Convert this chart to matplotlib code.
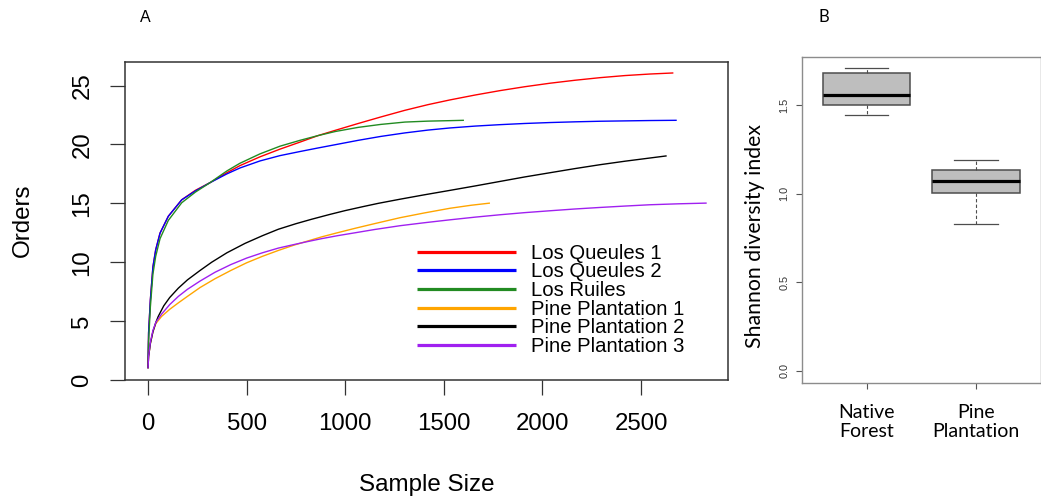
import matplotlib
matplotlib.use("Agg")
import matplotlib.pyplot as plt
from matplotlib.lines import Line2D

# ---------------- data: rarefaction curves (panel A) ----------------
series_names = ["Los Queules 1", "Los Queules 2", "Los Ruiles",
                "Pine Plantation 1", "Pine Plantation 2", "Pine Plantation 3"]
series_colors = ["#FF0000", "#0000FF", "#228B22", "#FFA500", "#000000", "#A020F0"]

lq1_x = [0, 3, 12, 25, 39, 61, 103, 171, 240, 314, 400, 466, 568, 669, 771, 862, 950, 1066, 1180, 1303,
         1420, 1531, 1660, 1785, 1910, 2039, 2165, 2292, 2420, 2546, 2664]
lq1_y = [1, 4.0, 6.8, 9.6, 11.05, 12.47, 13.9, 15.3, 16.1, 16.75, 17.6, 18.2, 18.95, 19.6, 20.2, 20.75, 21.2,
         21.78, 22.33, 22.9, 23.38, 23.78, 24.2, 24.57, 24.9, 25.2, 25.45, 25.67, 25.85, 25.98, 26.07]

lq2_x = [0, 3, 12, 25, 39, 61, 103, 171, 240, 314, 400, 466, 568, 669, 771, 862, 950, 1066, 1180, 1303,
         1420, 1531, 1660, 1785, 1910, 2039, 2165, 2292, 2420, 2546, 2681]
lq2_y = [1, 4.0, 6.8, 9.6, 11.05, 12.47, 13.9, 15.3, 16.05, 16.75, 17.5, 18.0, 18.6, 19.05, 19.4, 19.7, 19.98,
         20.35, 20.68, 20.98, 21.22, 21.4, 21.56, 21.68, 21.78, 21.86, 21.92, 21.97, 22.0, 22.03, 22.05]

lr_x = [0, 3, 12, 25, 39, 61, 103, 171, 240, 314, 400, 466, 568, 669, 771, 862, 950, 1066, 1180, 1303,
        1420, 1530, 1602]
lr_y = [1, 3.3, 6.2, 9.0, 10.5, 12.0, 13.55, 15.05, 15.95, 16.75, 17.75, 18.4, 19.2, 19.85, 20.35, 20.75,
        21.1, 21.45, 21.7, 21.9, 21.98, 22.02, 22.05]

pp1_x = [0, 3, 12, 25, 40, 69, 110, 154, 200, 264, 340, 420, 500, 580, 661, 740, 800, 880, 960, 1050, 1150,
         1278, 1400, 1531, 1640, 1734]
pp1_y = [1, 2.0, 3.1, 4.1, 4.8, 5.4, 6.0, 6.55, 7.1, 7.85, 8.6, 9.3, 9.95, 10.5, 11.0, 11.45, 11.75, 12.15,
         12.5, 12.88, 13.28, 13.78, 14.18, 14.58, 14.84, 15.02]

pp2_x = [0, 3, 12, 25, 40, 52, 80, 110, 154, 200, 264, 323, 400, 492, 580, 661, 750, 830, 920, 999, 1090, 1168,
         1278, 1400, 1531, 1660, 1785, 1910, 2039, 2165, 2292, 2420, 2546, 2630]
pp2_y = [1, 2.0, 3.1, 4.1, 4.9, 5.4, 6.3, 7.0, 7.8, 8.5, 9.3, 10.0, 10.8, 11.6, 12.25, 12.8, 13.27, 13.65,
         14.05, 14.38, 14.72, 15.0, 15.35, 15.72, 16.1, 16.48, 16.86, 17.24, 17.6, 17.95, 18.28, 18.58, 18.85, 19.03]

pp3_x = [0, 3, 12, 25, 40, 69, 110, 154, 200, 264, 340, 420, 500, 580, 661, 740, 800, 880, 960, 1050, 1150,
         1278, 1400, 1531, 1660, 1785, 1910, 2039, 2165, 2292, 2420, 2546, 2690, 2833]
pp3_y = [1, 2.0, 3.2, 4.2, 4.9, 5.6, 6.4, 7.1, 7.7, 8.4, 9.15, 9.8, 10.35, 10.8, 11.2, 11.5, 11.72, 12.0,
         12.25, 12.5, 12.78, 13.1, 13.35, 13.6, 13.83, 14.03, 14.21, 14.37, 14.52, 14.65, 14.77, 14.88, 14.96, 15.02]

curves_x = [lq1_x, lq2_x, lr_x, pp1_x, pp2_x, pp3_x]
curves_y = [lq1_y, lq2_y, lr_y, pp1_y, pp2_y, pp3_y]

# ---------------- data: Shannon boxplots (panel B) ----------------
box_groups = ["Native\nForest", "Pine\nPlantation"]
box_whislo = [1.445, 0.828]
box_q1 = [1.500, 1.003]
box_med = [1.558, 1.072]
box_q3 = [1.681, 1.136]
box_whishi = [1.709, 1.191]

W, H = 1041, 498
fig = plt.figure(figsize=(W / 100, H / 100), dpi=100)

def fx(px):
    return px / W

def fy(py):
    return 1 - py / H

# ---------------- panel A ----------------
axA = fig.add_axes([fx(125), fy(380), fx(728) - fx(125), fy(62) - fy(380)])
for xs, ys, c in zip(curves_x, curves_y, series_colors):
    axA.plot(xs, ys, color=c, lw=1.0, solid_capstyle="butt", solid_joinstyle="round")
axA.set_xlim(-116.6, 2941)
axA.set_ylim(0, 27)
axA.set_xticks([0, 500, 1000, 1500, 2000, 2500])
axA.set_yticks([0, 5, 10, 15, 20, 25])
fa = "Liberation Sans"
for s in axA.spines.values():
    s.set_color("#333333")
    s.set_linewidth(1.1)
axA.tick_params(axis="both", length=10.8, width=0.9, color="#333333",
                labelsize=17.3, direction="out")
axA.tick_params(axis="x", pad=13)
axA.tick_params(axis="y", pad=12)
for lab in axA.get_xticklabels():
    lab.set_fontfamily(fa)
for lab in axA.get_yticklabels():
    lab.set_fontfamily(fa)
    lab.set_rotation(90)
    lab.set_va("center")
fig.text(fx(426.5), fy(485), "Sample Size", ha="center", va="center",
         fontsize=17.4, family=fa)
fig.text(fx(23), fy(220), "Orders", ha="center", va="center", rotation=90,
         fontsize=17.4, family=fa)
fig.text(fx(145), fy(18), "A", ha="center", va="center", fontsize=11.5, family=fa)

# legend (manual, R-style)
leg_y0 = 251.7
leg_dy = 18.66
for i, (name, c) in enumerate(zip(series_names, series_colors)):
    yy = leg_y0 + i * leg_dy
    fig.add_artist(Line2D([fx(416.7), fx(516)], [fy(yy), fy(yy)], color=c, lw=2.3,
                          solid_capstyle="butt"))
    fig.text(fx(530.7), fy(yy + 7), name, ha="left", va="baseline",
             fontsize=14.6, family=fa)

# ---------------- panel B ----------------
axB = fig.add_axes([fx(802), fy(383), fx(1040.5) - fx(802), fy(57) - fy(383)])
stats = []
for lab, lo, q1, md, q3, hi in zip(box_groups, box_whislo, box_q1, box_med, box_q3, box_whishi):
    stats.append(dict(label=lab, whislo=lo, q1=q1, med=md, q3=q3, whishi=hi, fliers=[]))
axB.bxp(stats, positions=[1, 2], widths=0.8, patch_artist=True, showfliers=False,
        boxprops=dict(facecolor="#BEBEBE", edgecolor="#4D4D4D", linewidth=1.1),
        medianprops=dict(color="black", linewidth=2.3, solid_capstyle="butt"),
        whiskerprops=dict(color="#4D4D4D", linewidth=0.8, linestyle=(0, (3, 2))),
        capprops=dict(color="#4D4D4D", linewidth=0.9), capwidths=0.4)
axB.set_xlim(0.41, 2.59)
axB.set_ylim(-0.0695, 1.773)
axB.set_yticks([0.0, 0.5, 1.0, 1.5])
axB.set_yticklabels(["0.0", "0.5", "1.0", "1.5"])
for s in axB.spines.values():
    s.set_color("#8C8C8C")
    s.set_linewidth(1.0)
axB.tick_params(axis="y", length=4, width=0.8, color="#555555", labelsize=7.8, pad=5)
axB.tick_params(axis="x", length=4, width=0.8, color="#555555", labelsize=14, pad=11)
for lab in axB.get_yticklabels():
    lab.set_rotation(90)
    lab.set_va("center")
    lab.set_fontfamily(fa)
    lab.set_color("#333333")
for lab in axB.get_xticklabels():
    lab.set_fontfamily("Lato")
    lab.set_linespacing(1.15)
fig.text(fx(755), fy(236), "Shannon diversity index", ha="center", va="center",
         rotation=90, fontsize=15.3, family="Lato")
fig.text(fx(824), fy(17), "B", ha="center", va="center", fontsize=12, family="Lato")

fig.savefig("out.png", dpi=100)
